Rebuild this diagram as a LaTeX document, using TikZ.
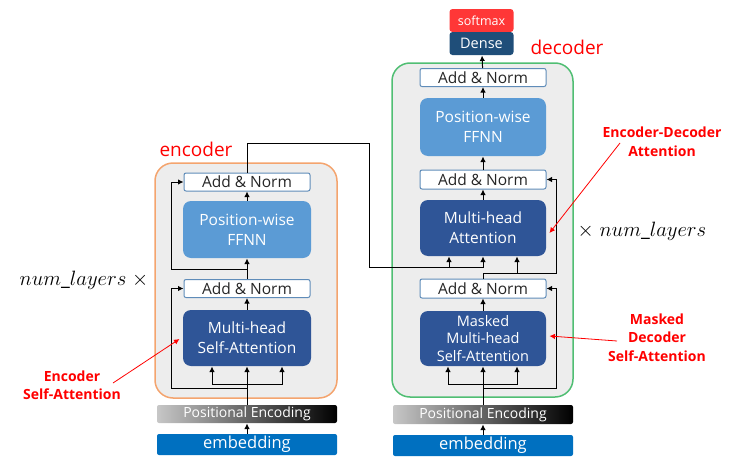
\documentclass[tikz,border=0pt]{standalone}
\usepackage{amsmath}
\usepackage{fontspec}
\setmainfont{Open Sans}
\usepackage{tikz}
\usetikzlibrary{arrows.meta}
\definecolor{boxgray}{RGB}{237,237,237}
\definecolor{encorange}{RGB}{244,164,110}
\definecolor{decgreen}{RGB}{80,190,115}
\definecolor{normblue}{RGB}{95,140,185}
\definecolor{ffblue}{RGB}{91,155,213}
\definecolor{attblue}{RGB}{47,85,151}
\definecolor{denseblue}{RGB}{31,78,121}
\definecolor{embblue}{RGB}{0,112,192}
\definecolor{softred}{RGB}{255,55,55}
\tikzstyle{frame}=[rectangle,rounded corners=18pt,fill=boxgray,line width=1.5pt,inner sep=0pt]
\tikzstyle{addnorm}=[rectangle,draw=normblue,fill=white,rounded corners=2pt,line width=1pt,
inner sep=0pt,minimum width=126pt,minimum height=18pt,text=black!85,font=\fontsize{15.5}{18}\selectfont]
\tikzstyle{ffnn}=[rectangle,fill=ffblue,rounded corners=8pt,text=white,align=center,
inner sep=0pt,minimum width=128pt,minimum height=57pt,font=\fontsize{15.5}{20}\selectfont]
\tikzstyle{attn}=[rectangle,fill=attblue,rounded corners=8pt,text=white,align=center,
inner sep=0pt,minimum width=128pt,minimum height=56pt,font=\fontsize{15.5}{20}\selectfont]
\tikzstyle{posenc}=[rectangle,left color=black!22,right color=black,rounded corners=2pt,text=white,
inner sep=0pt,minimum width=180pt,minimum height=18pt,font=\fontsize{14}{16}\selectfont]
\tikzstyle{embed}=[rectangle,fill=embblue,rounded corners=2pt,text=white,
inner sep=0pt,minimum width=180pt,minimum height=21pt,font=\fontsize{16.5}{18}\selectfont]
\tikzstyle{topbox}=[rectangle,rounded corners=3pt,text=white,inner sep=0pt,
minimum width=64pt,minimum height=23pt]
\tikzstyle{redlabel}=[text=red,align=center,font=\bfseries\fontsize{14}{18.5}\selectfont]
\tikzstyle{redarrow}=[->,draw=red,line width=0.8pt]

\begin{document}
\begin{tikzpicture}[x=1pt,y=-1pt,line width=1pt,>={Latex[length=5.5pt,width=5.5pt]}]
	\useasboundingbox (0,0) rectangle (732,466);
	
	% encoder
	\node  (encframe) at (246,280.5) [frame,draw=encorange,minimum width=182pt,minimum height=235pt] {};
	\node  (enclabel) at (196,149) [text=red,font=\fontsize{19}{22}\selectfont] {encoder};
	\node  (eAN2)  at (247,182) [addnorm] {Add \& Norm};
	\node  (eFF)   at (247,229.5) [ffnn] {Position-wise\\FFNN};
	\node  (eAN1)  at (247,288.5) [addnorm] {Add \& Norm};
	\node  (eMHA)  at (247,338) [attn] {Multi-head\\Self-Attention};
	\node  (ePE)   at (247,414) [posenc] {Positional Encoding};
	\node  (eEmb)  at (247,444.5) [embed] {embedding};
	
	% decoder
	\node  (decframe) at (482.5,230) [frame,draw=decgreen,minimum width=181pt,minimum height=334pt] {};
	\node  (declabel) at (567,47) [text=red,font=\fontsize{19}{22}\selectfont] {decoder};
	\node  (soft)  at (481.5,20.5) [topbox,fill=softred,font=\fontsize{12.5}{14}\selectfont] {softmax};
	\node  (dense) at (481.5,43.5) [topbox,fill=denseblue,font=\fontsize{14.5}{16}\selectfont] {Dense};
	\node  (dAN3)  at (483,77.5) [addnorm] {Add \& Norm};
	\node  (dFF)   at (483,127) [ffnn,minimum width=126pt,minimum height=58pt] {Position-wise\\FFNN};
	\node  (dAN2)  at (483,179.5) [addnorm,minimum height=19pt] {Add \& Norm};
	\node  (dMHA)  at (483,228) [attn,minimum width=126pt] {Multi-head\\Attention};
	\node  (dAN1)  at (483,288.5) [addnorm,minimum height=19pt] {Add \& Norm};
	\node  (dMM)   at (483,338.5) [attn,minimum width=126pt,minimum height=55pt,
	font=\fontsize{14.5}{17.5}\selectfont] {Masked\\Multi-head\\Self-Attention};
	\node  (dPE)   at (483,414.5) [posenc,minimum height=19pt] {Positional Encoding};
	\node  (dEmb)  at (483,445.5) [embed] {embedding};
	
	% layer counts
	\node  (nlL) at (84,280) [font=\fontsize{19.5}{22}\selectfont] {$num\_layers\;\times$};
	\node  (nlR) at (642,231) [font=\fontsize{19.5}{22}\selectfont] {$\times\;num\_layers$};
	
	% annotations
	\node  (encsa) at (72,385) [redlabel] {Encoder\\Self-Attention};
	\node  (edatt) at (662,141.5) [redlabel] {Encoder-Decoder\\Attention};
	\node  (mdsa)  at (657,337.5) [redlabel] {Masked\\Decoder\\Self-Attention};
	\coordinate (encsaS) at (113,383);
	\coordinate (edattS) at (620,143);
	\coordinate (mdsaS)  at (617,341);
	
	% corner points
	\coordinate (eb)  at (247,384);
	\coordinate (er1) at (247,388);
	\coordinate (er2) at (247,269);
	\coordinate (eup) at (247,143);
	\coordinate (eturn) at (369,143);
	\coordinate (ekv) at (369,267);
	\coordinate (db)  at (483,384);
	\coordinate (dr1) at (483,388);
	\coordinate (dq)  at (483,273);
	
	% encoder connectors
	\draw [->] (eEmb) to (ePE);
	\draw [->] (ePE.north) to (eMHA.south);
	\draw [->] (eb) -| ([xshift=-35pt]eMHA.south);
	\draw [->] (eb) -| ([xshift=35pt]eMHA.south);
	\draw [->] (er1) -| ([xshift=-12pt]eAN1.west) -- (eAN1.west);
	\draw [->] (eMHA) to (eAN1);
	\draw [->] (eAN1) to (eFF);
	\draw [->] (er2) -| ([xshift=-12pt]eAN2.west) -- (eAN2.west);
	\draw [->] (eFF) to (eAN2);
	\draw [-] (eAN2.north) -- (eup) -- (eturn) -- (ekv);
	
	% decoder connectors
	\draw [->] (dEmb) to (dPE);
	\draw [->] (dPE.north) to (dMM.south);
	\draw [->] (db) -| ([xshift=-35pt]dMM.south);
	\draw [->] (db) -| ([xshift=34pt]dMM.south);
	\draw [->] (dr1) -| ([xshift=10pt]dAN1.east) -- (dAN1.east);
	\draw [->] (dMM) to (dAN1);
	\draw [-] (dAN1.north) -- (dq);
	\draw [->] (dq) -| ([xshift=34pt]dMHA.south);
	\draw [->] (dq) -| ([xshift=10pt]dAN2.east) -- (dAN2.east);
	\draw [->] (ekv) -| ([xshift=-34pt]dMHA.south);
	\draw [->] (ekv) -| (dMHA.south);
	\draw [->] (dMHA) to (dAN2);
	\draw [->] (dAN2) to (dFF);
	\draw [->] (dFF) to (dAN3);
	\draw [->] (dAN3) to (dense);
	
	% red arrows
	\draw [redarrow] (encsaS) to ([xshift=-3pt,yshift=-1pt]eMHA.west);
	\draw [redarrow] (edattS) to ([xshift=3pt,yshift=-5pt]dMHA.east);
	\draw [redarrow] (mdsaS) to ([xshift=3pt,yshift=2.5pt]dMM.east);
	
\end{tikzpicture}
\end{document}
